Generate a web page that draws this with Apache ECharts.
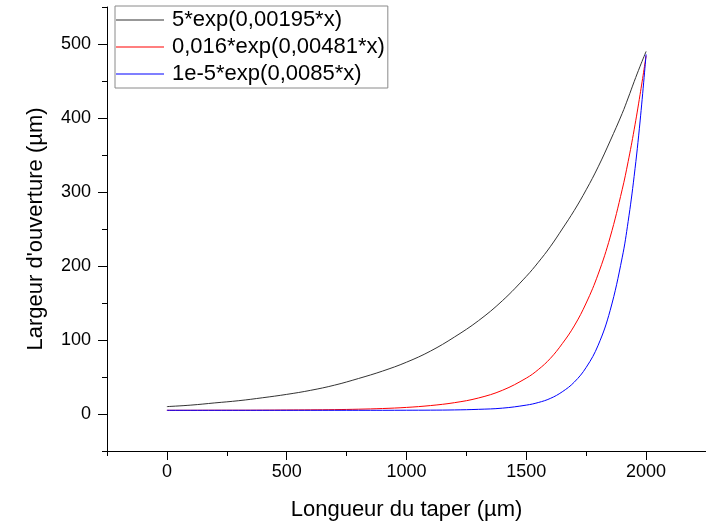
<!DOCTYPE html>
<html>
<head>
<meta charset="utf-8">
<script src="https://cdn.jsdelivr.net/npm/echarts@6/dist/echarts.min.js"></script>
<style>
html,body{margin:0;padding:0;background:#fff;}
#chart{width:706px;height:526px;}
</style>
</head>
<body>
<div id="chart"></div>
<script>
// ---- data ----
const xValues = [0,100,200,300,400,500,600,700,800,900,1000,1100,1200,1300,1400,1500,1550,1600,1650,1700,1750,1800,1850,1900,1925,1950,1975,2000];
const blackValues = [10,12,15,18,22,26.5,32,39,48,58,70,85,104,126,153,186,205,226,250,275,303,334,369,406,427,449,470,490];
const redValues = [5,5,5.1,5.1,5.2,5.4,5.6,5.9,6.5,7.4,8.9,11.4,15.3,21.6,32,48.5,60,75,95,119,150,189,239,303,341,384,432,484];
const blueValues = [5,5,5,5,5,5,5,5,5,5,5.1,5.2,5.5,6.3,7.9,12,15.5,21,30,43,63,93,140,211,260,321,396,486];
const seriesNames = ['5*exp(0,00195*x)','0,016*exp(0,00481*x)','1e-5*exp(0,0085*x)'];
const xMajorTicks = [0,500,1000,1500,2000];
const xMinorTicks = [-250,250,750,1250,1750,2250];
const yMajorTicks = [0,100,200,300,400,500];
const yMinorTicks = [-50,50,150,250,350,450,550];
const xTitle = 'Longueur du taper (µm)';
const yTitle = "Largeur d'ouverture (µm)";

const FONT = "'Liberation Sans', Arial, sans-serif";
const pairs = (ys) => xValues.map((x, i) => [x, ys[i]]);
const plain = (v) => String(v);

const chart = echarts.init(document.getElementById('chart'), null, {renderer: 'canvas'});
const lineCommon = {type:'line', symbol:'none', showSymbol:false, smooth:0.4, animation:false, xAxisIndex:0, yAxisIndex:0};

chart.setOption({
  animation:false,
  backgroundColor:'#fff',
  textStyle:{fontFamily:FONT},
  grid:{left:107, top:7, right:-8, bottom:73, containLabel:false},
  legend:{
    orient:'vertical', left:115, top:6,
    data:seriesNames,
    icon:'rect',
    itemWidth:48, itemHeight:1, itemGap:1,
    padding:[1,3,1,1],
    borderColor:'#8a8a8a', borderWidth:1, backgroundColor:'#fff',
    textStyle:{fontFamily:FONT, fontSize:22, color:'#000', lineHeight:26, padding:[0,0,0,3]}
  },
  xAxis:[{
    type:'value', min:-250, max:2250,
    name:xTitle, nameLocation:'middle', nameGap:48,
    nameTextStyle:{fontFamily:FONT, fontSize:22, color:'#000'},
    axisLine:{show:true, onZero:false, lineStyle:{color:'#000', width:1}},
    axisTick:{show:true, length:9, customValues:xMajorTicks, lineStyle:{color:'#000', width:1}},
    axisLabel:{show:true, margin:12, customValues:xMajorTicks, formatter:plain, fontFamily:FONT, fontSize:18, color:'#000'},
    splitLine:{show:false}
  },{
    type:'value', min:-250, max:2250, position:'bottom',
    axisLine:{show:false, onZero:false},
    axisTick:{show:true, length:5, customValues:xMinorTicks, lineStyle:{color:'#000', width:1}},
    axisLabel:{show:false},
    splitLine:{show:false}
  }],
  yAxis:[{
    type:'value', min:-50, max:550,
    name:yTitle, nameLocation:'middle', nameGap:60, nameRotate:90,
    nameTextStyle:{fontFamily:FONT, fontSize:22, color:'#000'},
    axisLine:{show:true, onZero:false, lineStyle:{color:'#000', width:1}},
    axisTick:{show:true, length:9, customValues:yMajorTicks, lineStyle:{color:'#000', width:1}},
    axisLabel:{show:true, margin:16, customValues:yMajorTicks, formatter:plain, fontFamily:FONT, fontSize:18, color:'#000'},
    splitLine:{show:false}
  },{
    type:'value', min:-50, max:550, position:'left',
    axisLine:{show:false, onZero:false},
    axisTick:{show:true, length:5, customValues:yMinorTicks, lineStyle:{color:'#000', width:1}},
    axisLabel:{show:false},
    splitLine:{show:false}
  }],
  series:[
    Object.assign({}, lineCommon, {name:seriesNames[0], data:pairs(blackValues), color:'#333333', lineStyle:{color:'#333333', width:1}}),
    Object.assign({}, lineCommon, {name:seriesNames[1], data:pairs(redValues), color:'#ff0000', lineStyle:{color:'#ff0000', width:1}}),
    Object.assign({}, lineCommon, {name:seriesNames[2], data:pairs(blueValues), color:'#0000ff', lineStyle:{color:'#0000ff', width:1}})
  ]
});
</script>
</body>
</html>
